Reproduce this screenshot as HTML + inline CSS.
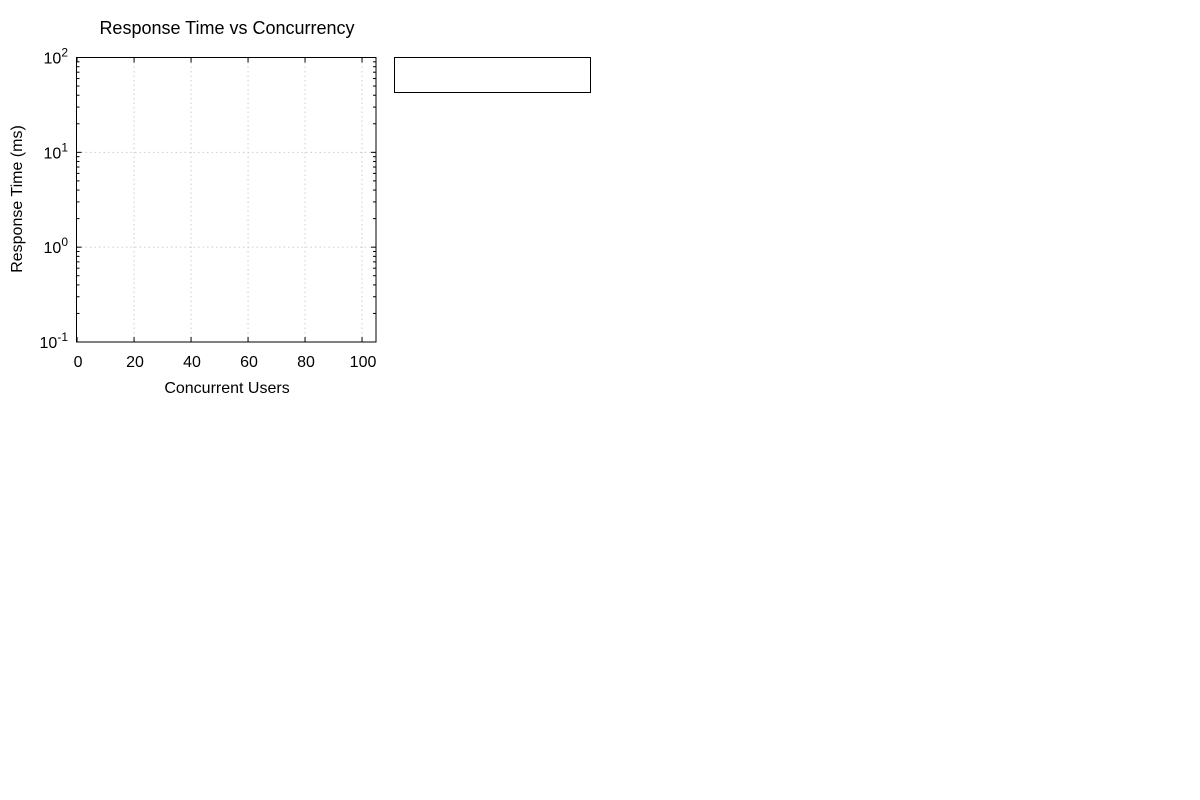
<!DOCTYPE html>
<html><head><meta charset="utf-8"><style>
body{margin:0;background:#fff;}
svg{display:block;font-family:"Liberation Sans",sans-serif;}
</style></head><body>
<svg id="chart" width="1200" height="800">
<text x="227" y="34" text-anchor="middle" font-size="18">Response Time vs Concurrency</text>
<g id="grid"></g>
<g id="ticks"></g>
<rect x="76.5" y="57.5" width="299.5" height="284.5" fill="none" stroke="#000" stroke-width="1"/>
<g id="series"></g>
<text x="227" y="393" text-anchor="middle" font-size="16">Concurrent Users</text>
<text transform="translate(22,199) rotate(-90)" text-anchor="middle" font-size="16">Response Time (ms)</text>
<rect x="394.5" y="57.5" width="196" height="35" fill="#fff" stroke="#000" stroke-width="1"/>
</svg>
<script>
const xTicks = [0, 20, 40, 60, 80, 100];
const yDecades = [-1, 0, 1, 2];
const seriesX = [];
const seriesY = [];
const NS = "http://www.w3.org/2000/svg";
const L = 76.5, R = 376, T = 57.5, B = 342;
const xMin = -0.2, xMax = 104.9, yMinE = -1, yMaxE = 2;
function xs(v){return L + (v - xMin) / (xMax - xMin) * (R - L);}
function ys(v){return B - (Math.log10(v) - yMinE) / (yMaxE - yMinE) * (B - T);}
function mk(tag, attrs, parent){const e=document.createElementNS(NS,tag);for(const k in attrs)e.setAttribute(k,attrs[k]);parent.appendChild(e);return e;}
const grid=document.getElementById('grid'), ticks=document.getElementById('ticks'), chart=document.getElementById('chart');
xTicks.forEach(v=>{
  const x=xs(v);
  if(v>0){const g=mk('line',{x1:x,x2:x,y1:T,y2:B,stroke:'#ccc','stroke-dasharray':'1.5,3'},grid);
  
  }
  mk('line',{x1:x,x2:x,y1:B,y2:B-5,stroke:'#000'},ticks);
  mk('line',{x1:x,x2:x,y1:T,y2:T+5,stroke:'#000'},ticks);
  const t=mk('text',{x:x+1,y:367,'text-anchor':'middle','font-size':16},chart);
  t.textContent=v;
  
  
});
yDecades.forEach(e=>{
  const y=ys(Math.pow(10,e));
  if(e>yMinE&&e<yMaxE){const g=mk('line',{x1:L,x2:R,y1:y,y2:y,stroke:'#ccc','stroke-dasharray':'1.5,3'},grid);
  
  }
  mk('line',{x1:L,x2:L+5,y1:y,y2:y,stroke:'#000'},ticks);
  mk('line',{x1:R,x2:R-5,y1:y,y2:y,stroke:'#000'},ticks);
  if(e<yMaxE){for(let m=2;m<10;m++){const yy=ys(m*Math.pow(10,e));
    mk('line',{x1:L,x2:L+3,y1:yy,y2:yy,stroke:'#000'},ticks);
    mk('line',{x1:R,x2:R-3,y1:yy,y2:yy,stroke:'#000'},ticks);}}
  const t=mk('text',{x:68,y:y+6,'text-anchor':'end','font-size':16},chart);
  
  
  const b=mk('tspan',{},t);b.textContent='10';
  const s=mk('tspan',{'font-size':12,dy:-7},t);s.textContent=e;
});
const sl=document.getElementById('series');
if(seriesX.length){
  const p=mk('polyline',{points:seriesX.map((v,i)=>xs(v)+','+ys(seriesY[i])).join(' '),fill:'none',stroke:'#9400d3'},sl);
  
  
}
</script>
</body></html>
